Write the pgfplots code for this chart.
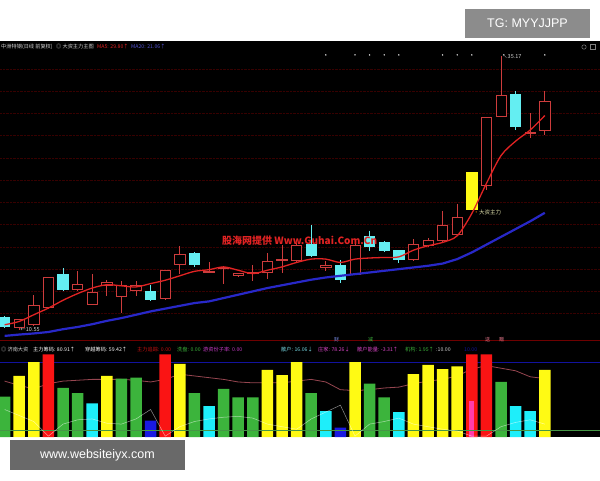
\documentclass[border=0pt]{standalone}
\usepackage{pgfplots}
\pgfplotsset{compat=1.18}
\usepgfplotslibrary{statistics}
\usepackage{fontspec}
\setmainfont{Liberation Sans}
\newfontfamily\cjk{Noto Sans CJK SC}

\definecolor{cUp}{RGB}{205,60,60}
\definecolor{cDn}{RGB}{100,238,242}
\definecolor{cMAa}{RGB}{225,35,35}
\definecolor{cMAb}{RGB}{40,40,200}
\definecolor{bYel}{RGB}{255,250,20}
\definecolor{bRed}{RGB}{250,20,20}
\definecolor{bGrn}{RGB}{60,180,60}
\definecolor{bCya}{RGB}{30,238,250}
\definecolor{bBlu}{RGB}{25,25,225}
\definecolor{bMag}{RGB}{255,60,170}
\definecolor{lnGrn}{RGB}{70,150,70}
\definecolor{gridred}{RGB}{55,0,0}
\definecolor{sepred}{RGB}{110,0,0}
\definecolor{pinkln}{RGB}{150,70,80}
\definecolor{txtgray}{RGB}{210,210,210}
\definecolor{tMag}{RGB}{200,60,200}
\definecolor{tPink}{RGB}{220,70,200}
\definecolor{tCya}{RGB}{120,220,230}
\definecolor{tCai}{RGB}{120,140,230}
\definecolor{tSong}{RGB}{230,120,140}
\definecolor{wmred}{RGB}{225,35,35}
\definecolor{boxA}{RGB}{140,140,140}
\definecolor{boxB}{RGB}{105,105,105}

% candle: index, low, body low, body high, high, style
\newcommand\cdl[6]{\addplot[#6, boxplot prepared={draw position=#1,
  lower whisker=#2, lower quartile=#3, median=#3,
  upper quartile=#4, upper whisker=#5}] coordinates {};}

\pgfplotsset{
  cup/.style={draw=cUp, fill=black, line width=0.8pt},
  cdn/.style={draw=cDn, fill=cDn, line width=0.8pt},
  cyl/.style={draw=bYel, fill=bYel, line width=0.8pt},
}

\pgfplotstableread{
i  ma5   ma20
0  11.0  10.00
1  11.3  10.12
2  11.9  10.22
3  12.5  10.35
4  13.2  10.60
5  13.8  10.80
6  14.3  11.05
7  14.6  11.35
8  14.5  11.60
9  14.4  11.90
10 14.7  12.20
11 15.0  12.45
12 15.4  12.70
13 15.8  12.95
14 15.95 13.10
15 16.2  13.40
16 15.9  13.70
17 15.6  14.00
18 15.9  14.30
19 16.2  14.55
20 16.6  14.80
21 16.9  15.05
22 16.9  15.25
23 16.6  15.40
24 16.9  15.55
25 17.0  15.70
26 17.05 15.85
27 17.1  16.00
28 17.7  16.15
29 18.1  16.30
30 18.4  16.50
31 19.0  16.90
32 21.0  17.50
33 23.7  18.20
34 26.2  18.90
35 27.5  19.60
36 28.5  20.30
37 29.8  21.06
}\mavals

\pgfplotstableread{
i  pink  gray
0  65  32
1  60  25
2  56  18
3  62  1
4  65  15
5  66  20
6  67  21
7  67  16
8  67  15
9  66  21
10 64  32
11 67  1
12 73  12
13 71  18
14 69  21
15 67  23
16 64  24
17 63  22
18 63  15
19 63  12
20 65  9
21 67  21
22 64  29
23 55  37
24 54  1
25 55  15
26 57  18
27 58  22
28 62  15
29 65  12
30 67  9
31 71  7
32 79  1
33 83  1
34 80  12
35 77  17
36 70  20
37 68  15
}\subvals

\begin{document}
\begin{tikzpicture}[x=1pt,y=1pt]
\fill[white] (0,0) rectangle (600,480);
\fill[black] (0,43) rectangle (600,439);

% main panel
\begin{axis}[at={(0,126)}, anchor=south west, scale only axis,
  width=600pt, height=296pt,
  xmin=-0.315, xmax=40.78, ymin=9.65, ymax=36.25,
  axis line style={draw=none}, xtick=\empty,
  ytick={12,14,...,34}, yticklabels={}, major tick length=0pt,
  ymajorgrids, grid style={densely dotted, gridred},
  boxplot/draw direction=y,
  boxplot/box extend=0.7, boxplot/whisker extend=0]
\cdl{0}{10.75}{10.82}{11.63}{11.75}{cdn}
\cdl{1}{10.55}{10.73}{11.45}{11.55}{cup}
\cdl{2}{10.95}{11.00}{12.71}{13.69}{cup}
\cdl{3}{12.50}{12.53}{15.22}{15.30}{cup}
\cdl{4}{14.05}{14.14}{15.49}{16.10}{cdn}
\cdl{5}{14.10}{14.14}{14.59}{15.85}{cup}
\cdl{6}{12.80}{12.80}{13.87}{15.58}{cup}
\cdl{7}{13.60}{14.50}{14.77}{15.04}{cup}
\cdl{8}{12.08}{13.51}{14.50}{14.95}{cup}
\cdl{9}{13.60}{14.05}{14.50}{14.95}{cup}
\cdl{10}{13.20}{13.25}{13.96}{14.60}{cdn}
\cdl{11}{13.30}{13.34}{15.85}{15.90}{cup}
\cdl{12}{15.58}{16.39}{17.29}{18.10}{cup}
\cdl{13}{16.20}{16.39}{17.38}{17.56}{cdn}
\cdl{14}{15.67}{15.67}{15.76}{16.66}{cup}
\cdl{15}{14.68}{16.03}{16.12}{16.30}{cup}
\cdl{16}{15.30}{15.40}{15.58}{15.67}{cup}
\cdl{17}{14.95}{15.58}{15.67}{16.39}{cup}
\cdl{18}{15.13}{15.67}{16.66}{17.47}{cup}
\cdl{19}{15.67}{16.75}{16.84}{18.19}{cup}
\cdl{20}{16.70}{16.75}{18.10}{18.37}{cup}
\cdl{21}{17.10}{17.20}{18.20}{19.98}{cdn}
\cdl{22}{15.85}{16.12}{16.30}{16.75}{cup}
\cdl{23}{14.77}{15.04}{16.30}{16.84}{cdn}
\cdl{24}{15.49}{15.49}{18.10}{18.37}{cup}
\cdl{25}{17.65}{18.01}{18.91}{19.45}{cdn}
\cdl{26}{17.60}{17.65}{18.37}{18.50}{cdn}
\cdl{27}{16.57}{16.84}{17.65}{17.70}{cdn}
\cdl{28}{16.80}{16.84}{18.19}{18.73}{cup}
\cdl{29}{18.05}{18.10}{18.55}{18.82}{cup}
\cdl{30}{18.50}{18.55}{19.89}{21.24}{cup}
\cdl{31}{19.00}{19.09}{20.61}{21.87}{cup}
\cdl{32}{21.33}{21.33}{24.66}{24.66}{cyl}
\cdl{33}{23.10}{23.49}{29.60}{29.60}{cup}
\cdl{34}{29.69}{29.69}{31.57}{35.17}{cup}
\cdl{35}{28.52}{28.79}{31.66}{32.02}{cdn}
\cdl{36}{27.80}{28.20}{28.30}{30.05}{cup}
\cdl{37}{28.07}{28.43}{31.04}{32.02}{cup}
\addplot[cMAb, line width=2.2pt] table[x=i, y=ma20] {\mavals};
\addplot[cMAa, line width=1.3pt, smooth] table[x=i, y=ma5] {\mavals};
\addplot[only marks, mark=*, mark size=0.5pt, txtgray] coordinates
  {(22,35.25) (24,35.25) (25,35.25) (26,35.25) (27,35.25) (30,35.25) (31,35.25) (32,35.25) (37,35.25)};
\node[anchor=west, inner sep=1pt, text=txtgray, font=\cjk\fontsize{5.5}{6}\selectfont] at (axis cs:1,10.55) {←10.55};
\node[anchor=west, inner sep=1pt, text=txtgray, font=\cjk\fontsize{5.5}{6}\selectfont] at (axis cs:34,35.1) {↖35.17};
\node[anchor=west, inner sep=1pt, text=txtgray!80!yellow, font=\cjk\fontsize{5.5}{6}\selectfont] at (axis cs:32.05,21.1) {{\color{orange}•}大资主力};
\end{axis}

% sub panel
\begin{axis}[at={(0,50)}, anchor=south west, scale only axis,
  width=600pt, height=97pt,
  xmin=-0.315, xmax=40.78, ymin=0, ymax=112.8, hide axis,
  ybar, bar width=11.5pt, bar shift=0pt]
\addplot[sharp plot, bBlu!70!black, line width=0.9pt] coordinates {(-1,87) (41,87)};
\addplot[sharp plot, pinkln, line width=0.8pt] table[x=i, y=pink] {\subvals};
\addplot[draw=none, fill=bYel] coordinates {(1,71) (2,87) (7,71) (12,85) (18,78) (19,72) (20,87) (24,87) (28,73) (29,84) (30,79) (31,82) (37,78)};
\addplot[draw=none, fill=bRed] coordinates {(3,96) (11,96) (32,96) (33,96)};
\addplot[draw=none, fill=bGrn] coordinates {(0,47) (4,57) (5,51) (8,68) (9,69) (13,51) (15,56) (16,46) (17,46) (21,51) (25,62) (26,46) (34,64)};
\addplot[draw=none, fill=bCya] coordinates {(6,39) (14,36) (22,30) (27,29) (35,36) (36,30)};
\addplot[draw=none, fill=bBlu] coordinates {(10,19) (23,11)};
\addplot[draw=none, fill=bMag, bar width=5pt] coordinates {(32,42)};
\addplot[sharp plot, lnGrn, line width=0.6pt] coordinates {(-1,8) (41,8)};
\addplot[sharp plot, white, opacity=0.55, line width=0.5pt] table[x=i, y=gray] {\subvals};
\end{axis}

% panel separator
\draw[sepred, line width=0.6pt] (0,140) -- (600,140);

% main header
\begin{scope}[every node/.style={anchor=west, inner sep=0pt, font=\cjk\fontsize{5.2}{6}\selectfont}]
\node[text=txtgray] at (1,433) {中洲特钢(日线 前复权)};
\node[text=txtgray] at (56,433) {◎ 大资主力主图};
\node[text=cMAa] at (97,433) {MA5: 29.80↑};
\node[text=cMAb!80!white] at (131,433) {MA20: 21.06↑};
% sub header
\node[text=txtgray] at (1,130.5) {◎ 济南大资};
\node[text=white] at (33,130.5) {主力筹码: 80.91↑};
\node[text=white] at (85,130.5) {穿越筹码: 59.42↑};
\node[text=bRed!80!black] at (137,130.5) {主力追踪: 0.00};
\node[text=bGrn] at (177,130.5) {洗盘: 0.00};
\node[text=tMag] at (203,130.5) {游资份子率: 0.00};
\node[text=tCya] at (281,130.5) {散户: 16.06↓};
\node[text=tPink] at (318,130.5) {庄家: 78.26↓};
\node[text=tPink] at (357,130.5) {散户能量: -3.31↑};
\node[text=bGrn] at (405,130.5) {机构: 1.95↑};
\node[text=txtgray] at (436,130.5) {:10.00};
\node[text=bBlu!70!black] at (464,130.5) {10.00};
% small markers at panel border
\node[text=tCai, font=\cjk\fontsize{5}{5}\selectfont] at (334,140) {财};
\node[text=bGrn, font=\cjk\fontsize{5}{5}\selectfont] at (368,140) {减};
\node[text=tSong, font=\cjk\fontsize{5}{5}\selectfont] at (485,140) {送};
\node[text=tSong, font=\cjk\fontsize{5}{5}\selectfont] at (499,140) {赠};
\end{scope}

% watermark
\node[anchor=west, inner sep=0pt, text=wmred,
  font=\cjk\bfseries\fontsize{10}{10}\selectfont] at (222,239) {股海网提供 Www.Guhai.Com.Cn};

% corner icons
\draw[gray, line width=0.5pt] (584,433) circle (2.2pt);
\draw[gray, line width=0.5pt] (590,430.5) rectangle (595,435.5);

% overlay boxes
\fill[boxA] (465,442) rectangle (590,471);
\node[text=white, font=\fontsize{12.5}{13}\selectfont] at (527.5,456.5) {TG: MYYJJPP};
\fill[boxB] (10,10) rectangle (185,40);
\node[text=white, font=\fontsize{12.5}{13}\selectfont] at (97.5,25) {www.websiteiyx.com};

\pgfresetboundingbox
\path[use as bounding box] (0,0) rectangle (600,480);
\end{tikzpicture}
\end{document}
